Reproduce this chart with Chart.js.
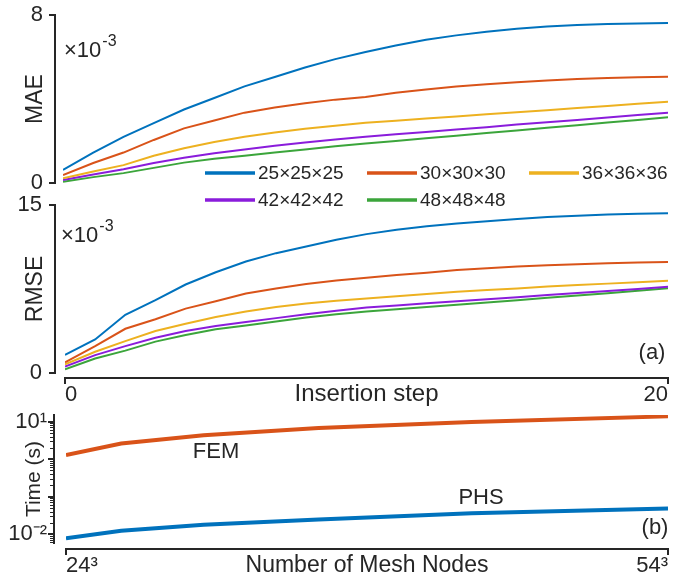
<!DOCTYPE html>
<html>
<head>
<meta charset="utf-8">
<script src="https://cdn.jsdelivr.net/npm/chart.js@4.4.1/dist/chart.umd.min.js"></script>
<style>
  body { margin: 0; background: #fff; }
  #wrap { position: relative; width: 673px; height: 582px; }
  canvas { position: absolute; left: 0; }
</style>
</head>
<body>
<div id="wrap">
  <canvas id="maeChart" width="673" height="215" style="top:0px"></canvas>
  <canvas id="rmseChart" width="673" height="220" style="top:190px"></canvas>
  <canvas id="timeChart" width="673" height="182" style="top:400px"></canvas>
</div>
<script>
// ---- data (errors in units of 1e-3) ----
const steps = [0, 1, 2, 3, 4, 5, 6, 7, 8, 9, 10, 11, 12, 13, 14, 15, 16, 17, 18, 19, 20];
const meshLabels = ["25×25×25", "30×30×30", "36×36×36", "42×42×42", "48×48×48"];

const mae25 = [0.62, 1.45, 2.2, 2.85, 3.5, 4.05, 4.6, 5.05, 5.5, 5.9, 6.24, 6.55, 6.82, 7.03, 7.2, 7.35, 7.45, 7.52, 7.57, 7.6, 7.62];
const mae30 = [0.38, 0.95, 1.45, 2.05, 2.6, 2.98, 3.35, 3.6, 3.8, 3.97, 4.1, 4.3, 4.45, 4.6, 4.7, 4.8, 4.88, 4.95, 5.0, 5.03, 5.06];
const mae36 = [0.22, 0.55, 0.85, 1.3, 1.65, 1.95, 2.2, 2.4, 2.58, 2.73, 2.87, 2.97, 3.07, 3.17, 3.27, 3.37, 3.47, 3.57, 3.67, 3.77, 3.87];
const mae42 = [0.14, 0.4, 0.65, 0.95, 1.2, 1.42, 1.6, 1.77, 1.93, 2.07, 2.2, 2.32, 2.43, 2.55, 2.66, 2.78, 2.89, 3.0, 3.12, 3.24, 3.35];
const mae48 = [0.06, 0.28, 0.47, 0.72, 0.97, 1.15, 1.3, 1.45, 1.6, 1.75, 1.88, 2.0, 2.13, 2.25, 2.38, 2.5, 2.63, 2.75, 2.88, 3.0, 3.13];

const rmse25 = [1.61, 3.0, 5.2, 6.5, 7.9, 9.0, 9.95, 10.7, 11.3, 11.9, 12.4, 12.8, 13.1, 13.35, 13.55, 13.75, 13.92, 14.05, 14.15, 14.22, 14.26];
const rmse30 = [0.95, 2.4, 3.95, 4.8, 5.75, 6.4, 7.1, 7.55, 7.95, 8.25, 8.5, 8.75, 8.95, 9.2, 9.35, 9.5, 9.62, 9.72, 9.8, 9.86, 9.91];
const rmse36 = [0.77, 1.9, 2.85, 3.75, 4.4, 5.0, 5.5, 5.9, 6.2, 6.45, 6.65, 6.85, 7.05, 7.25, 7.4, 7.55, 7.72, 7.85, 7.98, 8.1, 8.24];
const rmse42 = [0.57, 1.6, 2.4, 3.15, 3.75, 4.2, 4.55, 4.9, 5.25, 5.55, 5.85, 6.03, 6.22, 6.4, 6.59, 6.77, 6.96, 7.14, 7.33, 7.51, 7.7];
const rmse48 = [0.33, 1.3, 2.0, 2.8, 3.4, 3.9, 4.25, 4.6, 4.95, 5.25, 5.5, 5.7, 5.9, 6.1, 6.3, 6.5, 6.71, 6.92, 7.13, 7.35, 7.56];

const maeTicks = [0, 8];
const rmseTicks = [0, 15];
const stepTicks = [0, 20];

// number of mesh nodes: 24^3 ... 54^3
const meshNodes = [13824, 27000, 46656, 74088, 110592, 157464];
const timeFEM = [1.28, 2.6, 4.3, 6.8, 9.7, 13.8];
const timePHS = [0.0077, 0.0123, 0.0177, 0.0245, 0.036, 0.048];
const nodeTicks = [13824, 157464];
const nodeTickLabels = ["24³", "54³"];
const timeTicks = [0.01, 10];
const timeTickLabels = ["10⁻²", "10¹"];

// ---- style ----
const meshColors = ["#0072BD", "#D95319", "#EDB120", "#8A1CDB", "#3BA53B"];
const textColor = "#262626";
const fontFamily = "'Liberation Sans', Arial, Helvetica, sans-serif";

Chart.defaults.font.family = fontFamily;
Chart.defaults.color = textColor;

function series(values) {
  return steps.map((s, i) => ({ x: s, y: values[i] }));
}

function fixedTicks(list) {
  return scale => { scale.ticks = list.map(v => ({ value: v })); };
}

// fixed axis thickness, no extra room for overflowing labels
function fitY(width) {
  return s => { s.width = width; s.paddingTop = 0; s.paddingBottom = 0; };
}
function fitX(height) {
  return s => { s.height = height; s.paddingLeft = 0; s.paddingRight = 0; };
}

// axes drawn a little apart from the plot box (MATLAB style)
function axesPlugin(cfg) {
  return {
    id: "offsetAxes",
    afterDraw(chart) {
      const ctx = chart.ctx;
      const xs = chart.scales.x, ys = chart.scales.y;
      ctx.save();
      ctx.fillStyle = textColor;
      const yTop = Math.round(ys.getPixelForValue(ys.max));
      const yBot = Math.round(ys.getPixelForValue(ys.min));
      const ax = cfg.yAxisX;
      // y axis line and ticks
      ctx.fillRect(ax - 1, yTop - 1, 2, yBot - yTop + 2);
      (cfg.yMajor || []).forEach(v => {
        const p = Math.round(ys.getPixelForValue(v));
        ctx.fillRect(ax - 6, p - 1, 6, 2);
      });
      (cfg.yMinor || []).forEach(v => {
        if (v < ys.min || v > ys.max) return;
        const p = Math.round(ys.getPixelForValue(v));
        ctx.fillRect(ax - 4, p, 4, 1);
      });
      // x axis line and end ticks
      if (cfg.xAxisY != null) {
        const xl = Math.round(xs.getPixelForValue(xs.min));
        const xr = Math.round(xs.getPixelForValue(xs.max));
        const ay = cfg.xAxisY;
        ctx.fillRect(xl - 1, ay - 1, xr - xl + 2, 2);
        ctx.fillRect(xl - 1, ay, 2, 6);
        ctx.fillRect(xr - 1, ay, 2, 6);
      }
      (cfg.texts || []).forEach(t => {
        ctx.font = (t.size || 22) + "px " + fontFamily;
        ctx.textAlign = t.align || "center";
        ctx.textBaseline = "middle";
        ctx.fillText(t.text, t.x, t.y);
      });
      if (cfg.exponent) {
        const e = cfg.exponent;
        ctx.textAlign = "left";
        ctx.textBaseline = "alphabetic";
        ctx.font = "22px " + fontFamily;
        const base = "×10";
        ctx.fillText(base, e.x, e.y);
        const w = ctx.measureText(base).width;
        ctx.font = "16px " + fontFamily;
        ctx.fillText("-3", e.x + w + 1, e.y - 11);
      }
      ctx.restore();
    }
  };
}

const legendPlugin = {
  id: "meshLegend",
  afterDraw(chart) {
    const ctx = chart.ctx;
    const cols = [205, 367, 529];
    const rows = [173, 200];
    ctx.save();
    ctx.font = "19px " + fontFamily;
    ctx.textBaseline = "middle";
    ctx.textAlign = "left";
    chart.data.datasets.forEach((ds, i) => {
      const x = cols[i % 3], y = rows[Math.floor(i / 3)];
      ctx.strokeStyle = ds.borderColor;
      ctx.lineWidth = 3.5;
      ctx.beginPath();
      ctx.moveTo(x, y);
      ctx.lineTo(x + 50, y);
      ctx.stroke();
      ctx.fillStyle = textColor;
      ctx.fillText(ds.label, x + 53, y + 1);
    });
    ctx.restore();
  }
};

function errorDatasets(list) {
  return list.map((vals, i) => ({
    label: meshLabels[i],
    data: series(vals),
    borderColor: meshColors[i],
    borderWidth: 2,
    pointRadius: 0,
    tension: 0,
    fill: false
  }));
}

const baseOptions = {
  responsive: false,
  animation: false,
  devicePixelRatio: 1,
  plugins: { legend: { display: false }, tooltip: { enabled: false } }
};

// ---- (a) top: MAE ----
new Chart(document.getElementById("maeChart"), {
  type: "line",
  data: { datasets: errorDatasets([mae25, mae30, mae36, mae42, mae48]) },
  options: {
    ...baseOptions,
    layout: { padding: { top: 15, bottom: 32, right: 5, left: 0 } },
    scales: {
      x: { type: "linear", min: 0, max: 20, display: false },
      y: {
        min: 0, max: 8,
        afterBuildTicks: fixedTicks(maeTicks),
        afterFit: fitY(63),
        grid: { display: false, drawTicks: false },
        border: { display: false },
        ticks: { padding: 20, font: { size: 22 }, color: textColor },
        title: { display: true, text: "MAE", font: { size: 23 }, color: textColor, padding: { top: 22, bottom: 0 } }
      }
    }
  },
  plugins: [axesPlugin({ yAxisX: 55, yMajor: maeTicks, exponent: { x: 64, y: 57 } }), legendPlugin]
});

// ---- (a) bottom: RMSE ----
new Chart(document.getElementById("rmseChart"), {
  type: "line",
  data: { datasets: errorDatasets([rmse25, rmse30, rmse36, rmse42, rmse48]) },
  options: {
    ...baseOptions,
    layout: { padding: { top: 15, bottom: 0, right: 5, left: 0 } },
    scales: {
      x: {
        type: "linear", min: 0, max: 20,
        afterBuildTicks: fixedTicks(stepTicks),
        afterFit: fitX(37),
        grid: { display: false, drawTicks: false },
        border: { display: false },
        ticks: { padding: 9, align: "inner", maxRotation: 0, font: { size: 22 }, color: textColor },
        title: { display: true, text: "Insertion step", font: { size: 24 }, color: textColor, padding: { top: 0, bottom: 1 } }
      },
      y: {
        min: 0, max: 15,
        afterBuildTicks: fixedTicks(rmseTicks),
        afterFit: fitY(65),
        grid: { display: false, drawTicks: false },
        border: { display: false },
        ticks: { padding: 23, font: { size: 22 }, color: textColor },
        title: { display: true, text: "RMSE", font: { size: 23 }, color: textColor, padding: { top: 22, bottom: 0 } }
      }
    }
  },
  plugins: [axesPlugin({
    yAxisX: 55, yMajor: rmseTicks, xAxisY: 188,
    exponent: { x: 61, y: 52 },
    texts: [{ text: "(a)", x: 652, y: 163, size: 22 }]
  })]
});

// ---- (b): run time vs mesh size ----
const minorTime = [];
[0.001, 0.01, 0.1, 1, 10].forEach(d => {
  for (let k = 2; k <= 9; k++) minorTime.push(d * k);
});

new Chart(document.getElementById("timeChart"), {
  type: "line",
  data: {
    datasets: [
      { label: "FEM", data: meshNodes.map((n, i) => ({ x: n, y: timeFEM[i] })), borderColor: "#D95319", borderWidth: 4, pointRadius: 0, tension: 0 },
      { label: "PHS", data: meshNodes.map((n, i) => ({ x: n, y: timePHS[i] })), borderColor: "#0072BD", borderWidth: 4, pointRadius: 0, tension: 0 }
    ]
  },
  options: {
    ...baseOptions,
    layout: { padding: { top: 15, bottom: 0, right: 5, left: 0 } },
    scales: {
      x: {
        type: "linear", min: 13824, max: 157464,
        afterBuildTicks: fixedTicks(nodeTicks),
        afterFit: fitX(39),
        grid: { display: false, drawTicks: false },
        border: { display: false },
        ticks: { padding: 10, align: "inner", maxRotation: 0, font: { size: 22 }, color: textColor,
                 callback: (v, i) => nodeTickLabels[i] },
        title: { display: true, text: "Number of Mesh Nodes", font: { size: 23 }, color: textColor, padding: { top: 0, bottom: 3 } }
      },
      y: {
        type: "logarithmic", min: 0.0058, max: 15,
        afterBuildTicks: fixedTicks(timeTicks),
        afterFit: fitY(66),
        grid: { display: false, drawTicks: false },
        border: { display: false },
        ticks: { padding: 19, font: { size: 22 }, color: textColor, callback: (v, i) => timeTickLabels[i] },
        title: { display: true, text: "Time (s)", font: { size: 21 }, color: textColor, padding: { top: 22, bottom: 0 } }
      }
    }
  },
  plugins: [axesPlugin({
    yAxisX: 54, yMajor: [0.01, 0.1, 1, 10], yMinor: minorTime, xAxisY: 149,
    texts: [
      { text: "FEM", x: 216, y: 52, size: 22 },
      { text: "PHS", x: 481, y: 98, size: 22 },
      { text: "(b)", x: 655, y: 128, size: 22 }
    ]
  })]
});
</script>
</body>
</html>
